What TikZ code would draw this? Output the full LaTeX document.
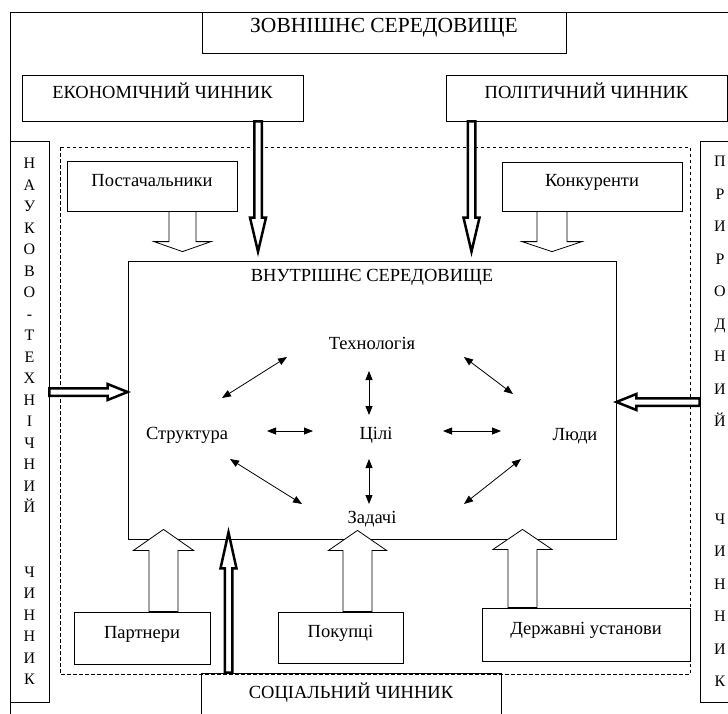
\documentclass[tikz,border=0pt]{standalone}
\usepackage{fontspec}
\setmainfont{Liberation Serif}
\usetikzlibrary{calc,arrows.meta}

\begin{document}
\begin{tikzpicture}[x=1pt,y=-1pt,font=\fontsize{18.5}{22}\selectfont,
  box/.style={draw,line width=0.8pt,inner sep=0pt,text height=0.7em,text depth=0.7em},
  col/.style={draw,line width=0.8pt,inner sep=0pt,align=center,minimum width=39pt,minimum height=561pt},
  blk/.style n args={3}{to path={
    ($(\tikztostart)!#1!90:(\tikztotarget)$)
    -- ($(\tikztotarget)!#3!(\tikztostart)!#1!90:(\tikztotarget)$)
    -- ($(\tikztotarget)!#3!(\tikztostart)!#2!90:(\tikztotarget)$)
    -- (\tikztotarget)
    -- ($(\tikztotarget)!#3!(\tikztostart)!#2!-90:(\tikztotarget)$)
    -- ($(\tikztotarget)!#3!(\tikztostart)!#1!-90:(\tikztotarget)$)
    -- ($(\tikztostart)!#1!-90:(\tikztotarget)$) -- cycle}},
  fat/.style={draw,fill=white,line width=2.5pt,line join=miter},
  hollow/.style={draw,fill=white,line width=0.8pt},
  dbl/.style={{Triangle[length=9pt,width=7pt]}-{Triangle[length=9pt,width=7pt]},line width=0.8pt}]

\useasboundingbox (0,0) rectangle (728,713);
\clip (0,0) rectangle (728,713);

\begin{scope}
\draw[line width=0.8pt] (10,12) rectangle (760,740);
\draw[line width=0.8pt,dash pattern=on 3.5pt off 2.5pt] (60,147) rectangle (690,674);

\node[box,minimum width=364pt,minimum height=41pt,font=\fontsize{21.5}{24}\selectfont] (env) at (384,32.5) {ЗОВНІШНЄ СЕРЕДОВИЩЕ};
\node[box,minimum width=281pt,minimum height=46pt] (econ) at (162.5,98) {ЕКОНОМІЧНИЙ ЧИННИК};
\node[box,minimum width=281pt,minimum height=46pt] (polit) at (586.5,98) {ПОЛІТИЧНИЙ ЧИННИК};
\node[col,font=\fontsize{16}{21.5}\selectfont] (sci) at (29.5,421.5)
  {Н\\А\\У\\К\\О\\В\\О\\-\\Т\\Е\\Х\\Н\\І\\Ч\\Н\\И\\Й\\{}\\{}\\Ч\\И\\Н\\Н\\И\\К};
\node[col,minimum width=40pt,font=\fontsize{16}{32.5}\selectfont] (nat) at (720,421.5)
  {П\\Р\\И\\Р\\О\\Д\\Н\\И\\Й\\{}\\{}\\Ч\\И\\Н\\Н\\И\\К};

\node[box,minimum width=170pt,minimum height=50pt] (supp) at (152,186) {Постачальники};
\node[box,minimum width=180pt,minimum height=49pt] (comp) at (592,186.5) {Конкуренти};
\node[box,minimum width=136pt,minimum height=52pt] (partn) at (142,638) {Партнери};
\node[box,minimum width=125pt,minimum height=51pt] (buyer) at (340.5,637.5) {Покупці};
\node[box,minimum width=208pt,minimum height=53pt] (gov) at (586,634.5) {Державні установи};
\node[box,minimum width=300pt,minimum height=50pt] (social) at (351,698) {СОЦІАЛЬНИЙ ЧИННИК};

% internal environment
\node[draw,line width=0.8pt,minimum width=488pt,minimum height=278pt] (inner) at (372,400) {};
\node (intitle) at ([shift={(0,17)}]inner.north) {ВНУТРІШНЄ СЕРЕДОВИЩЕ};
\node (tech) at (372,343) {Технологія};
\node (struct) at (187,435) {Структура};
\node (goals) at (376,435) {Цілі};
\node (people) at (575,436) {Люди};
\node (tasks) at (372,519) {Задачі};

\draw[dbl] ([shift={(35,-37)}]struct.center) -- ([shift={(-85,14)}]tech.center);
\draw[dbl] ([shift={(92,14)}]tech.center) -- ([shift={(-62,-42)}]people.center);
\draw[dbl] ([shift={(-3,28)}]tech.center) -- ([shift={(-7,-20)}]goals.center);
\draw[dbl] ([shift={(80,-4)}]struct.center) -- ([shift={(-63,-4)}]goals.center);
\draw[dbl] ([shift={(67,-4)}]goals.center) -- ([shift={(-74,-5)}]people.center);
\draw[dbl] ([shift={(-7,24)}]goals.center) -- ([shift={(-3,-15)}]tasks.center);
\draw[dbl] ([shift={(43,24)}]struct.center) -- ([shift={(-70,-15)}]tasks.center);
\draw[dbl] ([shift={(-54,23)}]people.center) -- ([shift={(92,-15)}]tasks.center);
\end{scope}

% open arrows from the nearby partners
\coordinate (su1) at ([shift={(30.5,0)}]supp.south);
\coordinate (su2) at ([shift={(-189.5,-9)}]inner.north);
\coordinate (co1) at ([shift={(-40,0)}]comp.south);
\coordinate (co2) at ([shift={(180,-9)}]inner.north);
\coordinate (pa1) at ([shift={(21.5,0)}]partn.north);
\coordinate (pa2) at ([shift={(-208.5,-10)}]inner.south);
\coordinate (bu1) at ([shift={(17,0)}]buyer.north);
\coordinate (bu2) at ([shift={(-14.5,-9)}]inner.south);
\coordinate (go1) at ([shift={(-63.5,0)}]gov.north);
\coordinate (go2) at ([shift={(150.5,-10)}]inner.south);
\draw[hollow,blk={13.5pt}{28.5pt}{10pt}] (su1) to (su2);
\draw[hollow,blk={15pt}{30pt}{10pt}] (co1) to (co2);
\draw[hollow,blk={14.5pt}{30pt}{21pt}] (pa1) to (pa2);
\draw[hollow,blk={14.5pt}{29pt}{20pt}] (bu1) to (bu2);
\draw[hollow,blk={14.5pt}{29.5pt}{20pt}] (go1) to (go2);

% bold arrows of the factors
\coordinate (ec1) at ([shift={(95.5,0)}]econ.south);
\coordinate (ec2) at ([shift={(-114,-9)}]inner.north);
\coordinate (po1) at ([shift={(-115,0)}]polit.south);
\coordinate (po2) at ([shift={(99.5,-9)}]inner.north);
\coordinate (sc1) at ([shift={(0,-29.5)}]sci.east);
\coordinate (sc2) at ([shift={(0,-8)}]inner.west);
\coordinate (na1) at ([shift={(0,-19.5)}]nat.west);
\coordinate (na2) at ([shift={(0,2)}]inner.east);
\coordinate (so1) at ([shift={(-122.5,0)}]social.north);
\coordinate (so2) at ([shift={(-143.5,-7)}]inner.south);
\draw[fat,blk={3.75pt}{8pt}{34pt}] (ec1) to (ec2);
\draw[fat,blk={3.75pt}{8pt}{34pt}] (po1) to (po2);
\draw[fat,blk={3.75pt}{8pt}{20pt}] (sc1) to (sc2);
\draw[fat,blk={3.75pt}{8pt}{20pt}] (na1) to (na2);
\draw[fat,blk={3.75pt}{8pt}{36pt}] (so1) to (so2);

\end{tikzpicture}
\end{document}
